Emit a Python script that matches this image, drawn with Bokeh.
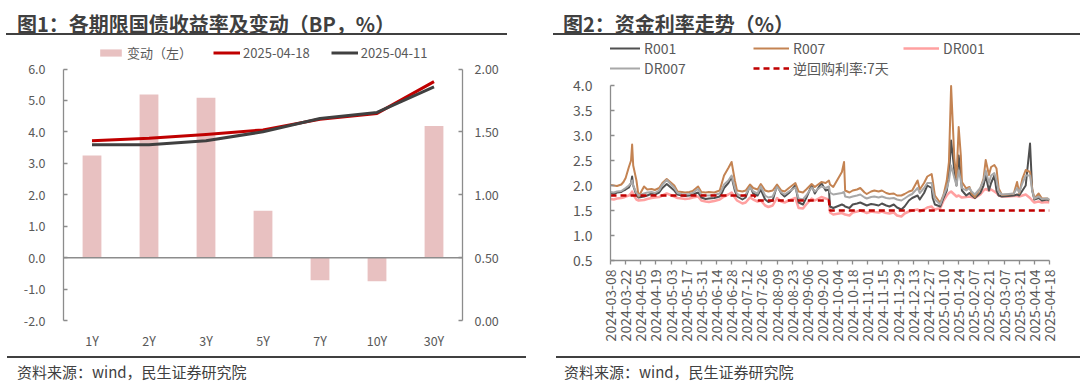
import math
import pandas as pd
from bokeh.plotting import figure
from bokeh.models import (FactorRange, Range1d, LinearAxis, Span, Legend, LegendItem,
                          FixedTicker, DatetimeTickFormatter, NumeralTickFormatter, Div)
from bokeh.layouts import row, column
from bokeh.embed import file_html
from bokeh.resources import INLINE

# ---------------- Figure 1 data ----------------
tenors = ["1Y", "2Y", "3Y", "5Y", "7Y", "10Y", "30Y"]
change_bp = [3.25, 5.19, 5.09, 1.49, -0.72, -0.75, 4.19]
yield_0418 = [1.430, 1.449, 1.480, 1.516, 1.600, 1.647, 1.900]
yield_0411 = [1.398, 1.397, 1.429, 1.501, 1.607, 1.655, 1.858]
y_left_ticks = [-2, -1, 0, 1, 2, 3, 4, 5, 6]
y_right_ticks = [0, 0.5, 1.0, 1.5, 2.0]

# ---------------- Figure 2 data ----------------
fund_dates = [
    "2024-03-08", "2024-03-11", "2024-03-14", "2024-03-18", "2024-03-20", "2024-03-22", "2024-03-25", "2024-03-27", "2024-03-28", "2024-03-29",
    "2024-04-01", "2024-04-03", "2024-04-08", "2024-04-11", "2024-04-15", "2024-04-18", "2024-04-22", "2024-04-25", "2024-04-29", "2024-05-06",
    "2024-05-09", "2024-05-13", "2024-05-16", "2024-05-20", "2024-05-23", "2024-05-28", "2024-05-31", "2024-06-04", "2024-06-07", "2024-06-12",
    "2024-06-17", "2024-06-19", "2024-06-21", "2024-06-25", "2024-06-28", "2024-07-01", "2024-07-03", "2024-07-08", "2024-07-11", "2024-07-15",
    "2024-07-18", "2024-07-22", "2024-07-25", "2024-07-29", "2024-08-01", "2024-08-05", "2024-08-09", "2024-08-13", "2024-08-16", "2024-08-20",
    "2024-08-26", "2024-08-29", "2024-09-02", "2024-09-05", "2024-09-10", "2024-09-13", "2024-09-19", "2024-09-23", "2024-09-26", "2024-09-27",
    "2024-09-30", "2024-10-08", "2024-10-10", "2024-10-11", "2024-10-15", "2024-10-18", "2024-10-22", "2024-10-25", "2024-10-29", "2024-10-31",
    "2024-11-04", "2024-11-07", "2024-11-11", "2024-11-14", "2024-11-18", "2024-11-21", "2024-11-25", "2024-11-28", "2024-12-02", "2024-12-05",
    "2024-12-09", "2024-12-12", "2024-12-17", "2024-12-19", "2024-12-23", "2024-12-26", "2024-12-30", "2024-12-31", "2025-01-02", "2025-01-07",
    "2025-01-10", "2025-01-13", "2025-01-15", "2025-01-17", "2025-01-20", "2025-01-22", "2025-01-24", "2025-01-26", "2025-01-27", "2025-01-31",
    "2025-02-03", "2025-02-05", "2025-02-08", "2025-02-13", "2025-02-16", "2025-02-18", "2025-02-21", "2025-02-23", "2025-02-26", "2025-02-28",
    "2025-03-02", "2025-03-05", "2025-03-11", "2025-03-16", "2025-03-19", "2025-03-21", "2025-03-24", "2025-03-27", "2025-03-31", "2025-04-02",
    "2025-04-04", "2025-04-08", "2025-04-11", "2025-04-16", "2025-04-18",
]
r001 = [
    1.85, 1.83, 1.86, 1.87, 1.90, 1.92, 1.96, 2.05, 2.18, 2.00,
    1.80, 1.76, 1.78, 1.80, 1.84, 1.82, 1.86, 1.95, 2.03, 1.90,
    1.82, 1.80, 1.79, 1.80, 1.82, 1.86, 1.76, 1.73, 1.74, 1.75,
    1.78, 1.85, 1.95, 2.05, 2.17, 1.90, 1.78, 1.72, 1.76, 2.00,
    1.84, 1.80, 1.92, 1.72, 1.67, 1.70, 2.00, 1.84, 1.78, 1.85,
    2.00, 1.66, 1.62, 1.75, 2.00, 1.84, 2.05, 1.90, 1.92, 1.58,
    1.55, 1.62, 1.60, 1.58, 1.55, 1.62, 1.64, 1.66, 1.62, 1.60,
    1.63, 1.62, 1.60, 1.64, 1.60, 1.58, 1.62, 1.56, 1.52, 1.58,
    1.70, 1.75, 1.80, 1.72, 1.85, 2.00, 1.95, 1.75, 1.62, 1.58,
    1.75, 1.90, 2.20, 2.90, 2.30, 2.00, 2.60, 2.20, 1.90, 1.80,
    1.85, 1.80, 1.75, 1.85, 2.00, 2.20, 1.90, 2.05, 2.20, 1.90,
    1.80, 1.78, 1.79, 1.80, 1.82, 1.80, 1.90, 2.00, 2.84, 1.90,
    1.72, 1.75, 1.70, 1.72, 1.70,
]
r007 = [
    2.01, 2.00, 1.99, 2.02, 2.07, 2.15, 2.37, 2.50, 2.82, 2.40,
    2.10, 1.78, 1.98, 1.92, 1.93, 1.91, 1.95, 2.05, 2.13, 2.00,
    1.88, 1.87, 1.86, 1.87, 1.89, 1.98, 1.87, 1.86, 1.87, 1.86,
    1.90, 2.05, 2.20, 2.35, 2.47, 2.10, 1.90, 1.88, 1.90, 2.02,
    1.95, 1.92, 2.03, 1.90, 1.88, 1.90, 2.02, 1.90, 1.88, 1.95,
    2.05, 1.88, 1.86, 1.92, 2.03, 1.97, 2.07, 2.05, 2.10, 2.02,
    1.97, 2.27, 2.47, 1.90, 1.86, 1.90, 1.92, 1.95, 1.86, 1.83,
    1.88, 1.90, 1.88, 1.90, 1.85, 1.83, 1.84, 1.80, 1.80, 1.83,
    1.88, 1.90, 2.10, 1.92, 2.05, 2.18, 2.23, 2.10, 1.80, 1.65,
    1.81, 2.10, 2.47, 3.99, 2.54, 2.14, 3.17, 2.60, 2.07, 1.94,
    1.97, 1.84, 1.77, 1.94, 2.14, 2.51, 2.21, 2.37, 2.41, 2.34,
    1.94, 1.81, 1.82, 1.84, 2.07, 1.84, 2.14, 2.31, 2.27, 1.94,
    1.74, 1.84, 1.74, 1.74, 1.71,
]
dr001 = [
    1.73, 1.72, 1.74, 1.75, 1.76, 1.78, 1.80, 1.84, 1.88, 1.82,
    1.72, 1.70, 1.71, 1.73, 1.75, 1.76, 1.77, 1.80, 1.84, 1.78,
    1.75, 1.74, 1.73, 1.74, 1.76, 1.78, 1.70, 1.68, 1.67, 1.69,
    1.72, 1.75, 1.78, 1.82, 1.86, 1.76, 1.70, 1.64, 1.66, 1.76,
    1.72, 1.68, 1.70, 1.60, 1.57, 1.60, 1.75, 1.68, 1.66, 1.70,
    1.75, 1.55, 1.54, 1.62, 1.74, 1.70, 1.77, 1.74, 1.72, 1.46,
    1.42, 1.45, 1.43, 1.42, 1.40, 1.46, 1.48, 1.50, 1.47, 1.45,
    1.48, 1.47, 1.46, 1.48, 1.45, 1.44, 1.46, 1.40, 1.38, 1.44,
    1.48, 1.50, 1.52, 1.48, 1.52, 1.56, 1.58, 1.55, 1.52, 1.55,
    1.70, 1.80, 1.85, 1.88, 1.82, 1.78, 1.80, 1.77, 1.76, 1.77,
    1.78, 1.77, 1.75, 1.82, 1.90, 1.93, 1.90, 1.92, 1.88, 1.85,
    1.80, 1.78, 1.78, 1.79, 1.79, 1.78, 1.80, 1.82, 1.75, 1.70,
    1.66, 1.68, 1.66, 1.67, 1.66,
]
dr007 = [
    1.87, 1.86, 1.88, 1.89, 1.92, 1.95, 2.00, 2.05, 2.10, 2.00,
    1.85, 1.80, 1.84, 1.86, 1.87, 1.85, 1.90, 2.02, 2.11, 1.95,
    1.85, 1.83, 1.82, 1.83, 1.85, 1.93, 1.82, 1.80, 1.80, 1.81,
    1.84, 1.92, 2.02, 2.10, 2.20, 1.95, 1.83, 1.78, 1.82, 1.97,
    1.88, 1.84, 1.98, 1.80, 1.76, 1.78, 1.97, 1.86, 1.82, 1.88,
    1.96, 1.74, 1.72, 1.80, 1.96, 1.88, 1.98, 1.95, 1.98, 1.86,
    1.82, 1.85, 1.87, 1.78, 1.76, 1.78, 1.80, 1.82, 1.76, 1.74,
    1.77, 1.78, 1.76, 1.78, 1.75, 1.74, 1.75, 1.72, 1.70, 1.74,
    1.80, 1.83, 1.95, 1.85, 1.95, 2.05, 2.05, 1.90, 1.72, 1.62,
    1.80, 1.95, 2.10, 2.40, 2.15, 2.00, 2.30, 2.10, 1.95, 1.90,
    1.95, 1.88, 1.82, 1.95, 2.10, 2.30, 2.05, 2.20, 2.25, 2.10,
    1.88, 1.82, 1.83, 1.84, 1.95, 1.86, 2.05, 2.20, 2.20, 1.90,
    1.74, 1.78, 1.73, 1.74, 1.72,
]
rr_dates = ["2024-03-08", "2024-07-19", "2024-07-22", "2024-09-26", "2024-09-27", "2025-04-18"]
rr7 = [1.8, 1.8, 1.7, 1.7, 1.5, 1.5]
x_tick_dates = [
    "2024-03-08", "2024-03-22", "2024-04-05", "2024-04-19", "2024-05-03", "2024-05-17",
    "2024-05-31", "2024-06-14", "2024-06-28", "2024-07-12", "2024-07-26", "2024-08-09",
    "2024-08-23", "2024-09-06", "2024-09-20", "2024-10-04", "2024-10-18", "2024-11-01",
    "2024-11-15", "2024-11-29", "2024-12-13", "2024-12-27", "2025-01-10", "2025-01-24",
    "2025-02-07", "2025-02-21", "2025-03-07", "2025-03-21", "2025-04-04", "2025-04-18",
]
y2_ticks = [0.5, 1.0, 1.5, 2.0, 2.5, 3.0, 3.5, 4.0]

FONT = "Noto Sans CJK SC"
AXIS_C = "#8C8C8C"
LABEL_C = "#595959"


def ms(d):
    return pd.Timestamp(d).timestamp() * 1000.0


def style_axis(ax, size):
    ax.axis_line_color = AXIS_C
    ax.axis_line_width = 1.3
    ax.major_tick_line_color = AXIS_C
    ax.major_tick_line_width = 1.3
    ax.minor_tick_line_color = None
    ax.major_label_text_color = LABEL_C
    ax.major_label_text_font = FONT
    ax.major_label_text_font_size = size


def no_align(p):
    try:
        p.frame_align = False
    except Exception:
        pass


# ---------------- Figure 1 ----------------
# the frame also covers the legend strip; the axes are bounded to their real ranges
pl = figure(width=540, height=317, x_range=FactorRange(factors=tenors), y_range=Range1d(-2, 7.0667),
            output_backend="svg", toolbar_location=None,
            min_border_left=63, min_border_right=78, min_border_top=0, min_border_bottom=28)
no_align(pl)
pl.outline_line_color = None
pl.xgrid.visible = False
pl.ygrid.visible = False
pl.extra_y_ranges = {"yr": Range1d(0, 2.2667)}

bars = pl.vbar(x=tenors, top=change_bp, width=0.33, fill_color="#E8C1C1", line_color=None)
zero = Span(location=0, dimension="width", line_color=AXIS_C, line_width=1.5)
pl.add_layout(zero)
l18 = pl.line(tenors, yield_0418, y_range_name="yr", line_color="#C00000", line_width=3, line_join="round")
l11 = pl.line(tenors, yield_0411, y_range_name="yr", line_color="#404040", line_width=3, line_join="round")

style_axis(pl.yaxis[0], "12.5px")
pl.yaxis.ticker = FixedTicker(ticks=y_left_ticks)
pl.yaxis.formatter = NumeralTickFormatter(format="0.0")
pl.yaxis.bounds = (-2, 6)
pl.yaxis.major_tick_in = 4
pl.yaxis.major_tick_out = 0
pl.yaxis.major_label_standoff = 18

raxis = LinearAxis(y_range_name="yr", ticker=FixedTicker(ticks=y_right_ticks),
                   formatter=NumeralTickFormatter(format="0.00"), bounds=(0, 2))
style_axis(raxis, "12.5px")
raxis.major_tick_in = 4
raxis.major_tick_out = 0
raxis.major_label_standoff = 12
pl.add_layout(raxis, "right")

style_axis(pl.xaxis[0], "12.5px")
pl.xaxis.axis_line_color = None
pl.xaxis.major_tick_line_color = None
pl.xaxis.major_tick_in = 0
pl.xaxis.major_tick_out = 0
pl.xaxis.major_label_standoff = 10

leg1 = Legend(items=[LegendItem(label="变动（左）", renderers=[bars]),
                     LegendItem(label="2025-04-18", renderers=[l18]),
                     LegendItem(label="2025-04-11", renderers=[l11])],
              orientation="horizontal", location=(34, 258), padding=0, margin=0, spacing=21,
              glyph_width=27, glyph_height=9, label_height=16, label_standoff=3,
              label_text_font=FONT, label_text_font_size="13px", label_text_color=LABEL_C,
              border_line_color=None, background_fill_alpha=0)
pl.add_layout(leg1)

# ---------------- Figure 2 ----------------
pr = figure(width=540, height=317, x_axis_type="datetime",
            x_range=Range1d(ms(x_tick_dates[0]), ms(x_tick_dates[-1])), y_range=Range1d(0.5, 5.0),
            output_backend="svg", toolbar_location=None,
            min_border_left=70, min_border_right=31, min_border_top=0, min_border_bottom=92)
no_align(pr)
pr.outline_line_color = None
pr.xgrid.visible = False
pr.ygrid.visible = False

fx = [ms(d) for d in fund_dates]
rx = [ms(d) for d in rr_dates]
c_dr001 = pr.line(fx, dr001, line_color="#FFA0A0", line_width=2.5, line_join="round")
c_r001 = pr.line(fx, r001, line_color="#505050", line_width=2, line_join="round")
c_r007 = pr.line(fx, r007, line_color="#C48352", line_width=2, line_join="round")
c_dr007 = pr.line(fx, dr007, line_color="#A8A8A8", line_width=2, line_join="round")
c_rr = pr.line(rx, rr7, line_color="#C00000", line_width=2.5, line_dash="6 4")

style_axis(pr.yaxis[0], "14px")
pr.yaxis.ticker = FixedTicker(ticks=y2_ticks)
pr.yaxis.formatter = NumeralTickFormatter(format="0.0")
pr.yaxis.bounds = (0.5, 4.0)
pr.yaxis.major_tick_in = 4
pr.yaxis.major_tick_out = 0
pr.yaxis.major_label_standoff = 18

style_axis(pr.xaxis[0], "14px")
pr.xaxis.ticker = FixedTicker(ticks=[ms(d) for d in x_tick_dates])
fmt = "%Y-%m-%d"
pr.xaxis.formatter = DatetimeTickFormatter(days=fmt, months=fmt, years=fmt, hours=fmt,
                                           hourmin=fmt, minutes=fmt, minsec=fmt, seconds=fmt,
                                           milliseconds=fmt, microseconds=fmt)
pr.xaxis.major_label_orientation = math.pi / 2
pr.xaxis.major_tick_in = 0
pr.xaxis.major_tick_out = 4
pr.xaxis.major_label_standoff = 5


def mk_leg(items, loc):
    return Legend(items=items, orientation="vertical", location=loc, padding=0, margin=0, spacing=-2,
                  glyph_width=36, glyph_height=10, label_height=16, label_standoff=4,
                  label_text_font=FONT, label_text_font_size="14px", label_text_color=LABEL_C,
                  border_line_color=None, background_fill_alpha=0)


pr.add_layout(mk_leg([LegendItem(label="R001", renderers=[c_r001]),
                      LegendItem(label="DR007", renderers=[c_dr007])], (-6, 182)))
pr.add_layout(mk_leg([LegendItem(label="R007", renderers=[c_r007]),
                      LegendItem(label="逆回购利率:7天", renderers=[c_rr])], (143, 182)))
pr.add_layout(mk_leg([LegendItem(label="DR001", renderers=[c_dr001])], (293, 202)))

# ---------------- titles & sources ----------------
title_html = (
    '<div style="position:relative;width:1080px;height:35px;font-family:\'Noto Sans CJK SC\',sans-serif;color:#404040;">'
    '<div style="position:absolute;left:17px;top:12px;font-size:20px;font-weight:bold;line-height:24px;white-space:nowrap;">图1：各期限国债收益率及变动（BP，%）</div>'
    '<div style="position:absolute;left:6px;top:33px;width:501px;height:2px;background:#404040;"></div>'
    '<div style="position:absolute;left:563px;top:12px;font-size:20px;font-weight:bold;line-height:24px;white-space:nowrap;">图2：资金利率走势（%）</div>'
    '<div style="position:absolute;left:553px;top:33px;width:527px;height:2px;background:#404040;"></div>'
    '</div>'
)
src_html = (
    '<div style="position:relative;width:1080px;height:35px;font-family:\'Noto Sans CJK SC\',sans-serif;color:#404040;">'
    '<div style="position:absolute;left:7px;top:4px;width:519px;height:2px;background:#404040;"></div>'
    '<div style="position:absolute;left:556px;top:4px;width:524px;height:2px;background:#404040;"></div>'
    '<div style="position:absolute;left:17px;top:11px;font-size:15px;line-height:18px;white-space:nowrap;">资料来源：wind，民生证券研究院</div>'
    '<div style="position:absolute;left:564px;top:11px;font-size:15px;line-height:18px;white-space:nowrap;">资料来源：wind，民生证券研究院</div>'
    '</div>'
)
title_div = Div(text=title_html, width=1080, height=35, margin=(0, 0, 0, 0))
src_div = Div(text=src_html, width=1080, height=35, margin=(0, 0, 0, 0))

layout = column(title_div, row(pl, pr), src_div)

with open("out.html", "w") as f:
    f.write(file_html(layout, INLINE))
